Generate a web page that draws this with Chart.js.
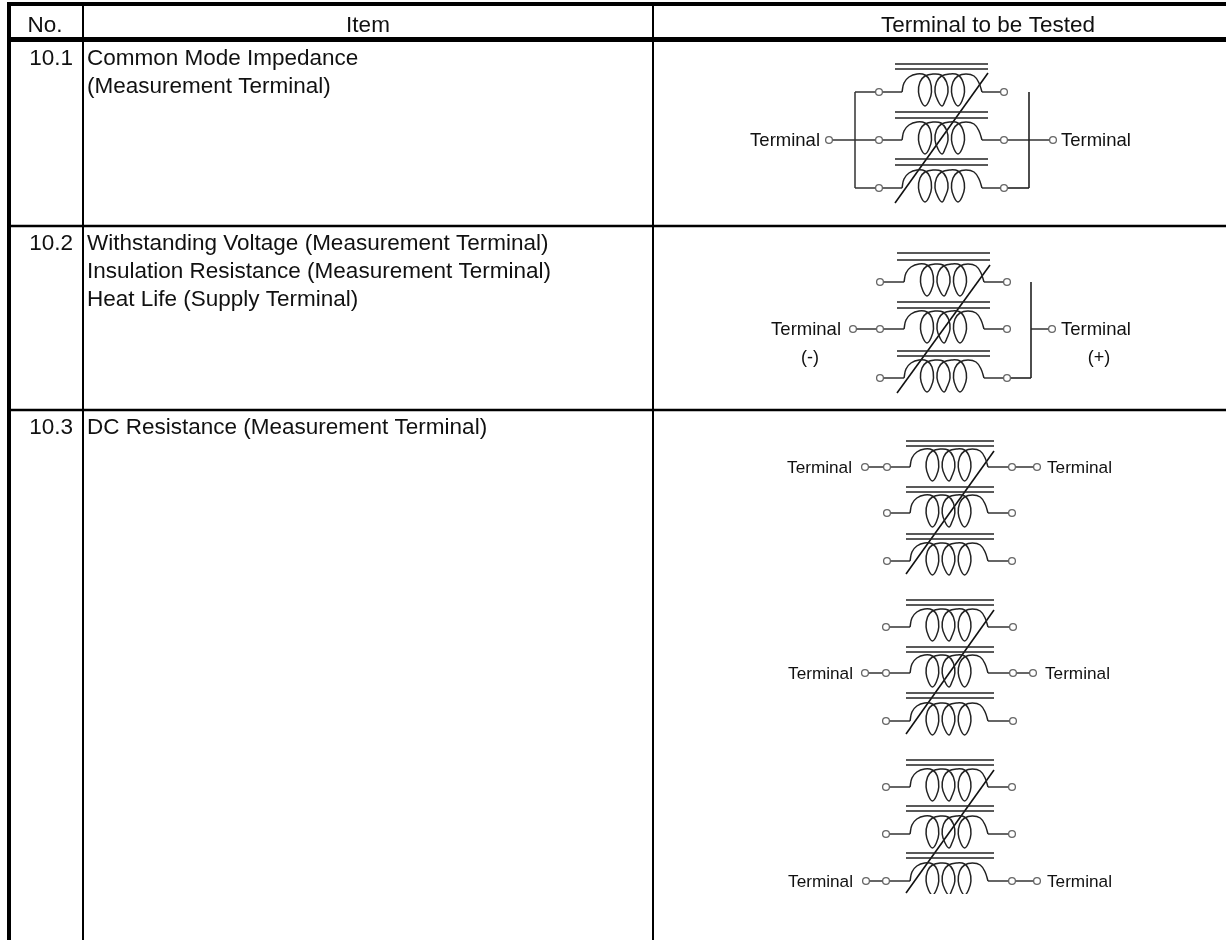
<!DOCTYPE html>
<html>
<head>
<meta charset="utf-8">
<title>Terminal to be Tested</title>
<script src="https://cdn.jsdelivr.net/npm/chart.js@4/dist/chart.umd.min.js"></script>
<style>
  html, body { margin: 0; padding: 0; background: #fff; }
  #wrap { width: 1226px; height: 940px; }
</style>
</head>
<body>
<div id="wrap"><canvas id="tableChart" width="1226" height="940"></canvas></div>
<script>
// table text
const headers = ['No.', 'Item', 'Terminal to be Tested'];
const headerX = [45, 368, 988];
const itemNos = ['10.1', '10.2', '10.3'];
const itemLines = [
  ['Common Mode Impedance', '(Measurement Terminal)'],
  ['Withstanding Voltage (Measurement Terminal)', 'Insulation Resistance (Measurement Terminal)', 'Heat Life (Supply Terminal)'],
  ['DC Resistance (Measurement Terminal)']
];
const rowBaselines = [65, 250, 434];

// table rules
const ruleTopY = 4;
const ruleHeaderY = 39.5;
const ruleRowY = [226, 410];
const ruleColX = [83, 653];
const ruleLeftX = 9;

// one coil, relative to its lead-in point
const coilX = [0, 2, 7, 15, 23, 28, 29.5, 27, 23, 19, 16.5, 18, 23, 31, 39, 44.5, 46, 43, 40, 36, 33, 34.5, 39.5, 47.5, 56, 61, 62.5, 60, 56, 52, 49.5, 51, 56, 64, 72, 77, 80];
const coilY = [0, -9, -15, -18, -17, -11, 0, 9, 14, 9, 0, -10, -16, -18, -17, -10, 0, 9, 14, 9, 0, -10, -16, -18, -17, -10, 0, 9, 14, 9, 0, -10, -16, -18, -16, -9, 0];

// five winding diagrams
const coreLeft = [895, 897, 906, 906, 906];
const coreRight = [988, 990, 994, 994, 994];
const coilStart = [902, 904, 910, 910, 910];
const coilEnd = [982, 984, 988, 988, 988];
const pinLeft = [879, 880, 887, 886, 886];
const pinRight = [1004, 1007, 1012, 1013, 1012];
const windingY = [
  [92, 140, 188],
  [282, 329, 378],
  [467, 513, 561],
  [627, 673, 721],
  [787, 834, 881]
];
const coreY = [
  [64, 69, 112, 118, 159, 165],
  [253, 260, 302, 308, 351, 356],
  [441, 446, 487, 492, 534, 539],
  [600, 605, 647, 652, 693, 698],
  [760, 765, 806, 811, 853, 858]
];
const slashBottom = [203, 393, 574, 734, 893];
const slashTop = [73, 265, 451, 610, 770];

// outer terminals
const terminalRow = [1, 1, 0, 1, 2];
const outerPinLeft = [829, 853, 865, 865, 866];
const outerPinRight = [1053, 1052, 1037, 1033, 1037];
const terminalLeftX = [820, 841, 852, 853, 853];
const terminalRightX = [1061, 1061, 1047, 1045, 1047];
const terminalSize = [18.5, 18.5, 17.2, 17.2, 17.2];
const busLeftX = 855;
const busRightX = [1029, 1031];

const datasets = [];
const pins = [];

function addLine(points, width, color, tension) {
  datasets.push({
    data: points,
    showLine: true,
    pointRadius: 0,
    borderColor: color || '#000',
    borderWidth: width,
    tension: tension || 0,
    order: 2
  });
}

function hLine(x1, x2, y, width, color) {
  addLine([{ x: x1, y: y }, { x: x2, y: y }], width, color);
}

function vLine(x, y1, y2, width, color) {
  addLine([{ x: x, y: y1 }, { x: x, y: y2 }], width, color);
}

// rules of the table
hLine(7, 1226, ruleTopY, 4);
hLine(7, 1226, ruleHeaderY, 5);
ruleRowY.forEach(y => hLine(7, 1226, y, 2.6));
vLine(ruleLeftX, 2, 940, 4);
ruleColX.forEach(x => vLine(x, 4, 940, 2));

// windings
coreLeft.forEach((left, d) => {
  coreY[d].forEach(y => hLine(left, coreRight[d], y, 1.6, '#222'));
  windingY[d].forEach(y => {
    const scale = (coilEnd[d] - coilStart[d]) / 80;
    const coil = coilX.map((dx, i) => ({ x: coilStart[d] + dx * scale, y: y + coilY[i] }));
    addLine(coil, 1.5, '#222', 0.4);
    hLine(pinLeft[d], coilStart[d], y, 1.5, '#333');
    hLine(coilEnd[d], pinRight[d], y, 1.5, '#333');
    pins.push({ x: pinLeft[d], y: y }, { x: pinRight[d], y: y });
  });
  addLine([{ x: left, y: slashBottom[d] }, { x: coreRight[d], y: slashTop[d] }], 1.6, '#111');

  const rowY = windingY[d][terminalRow[d]];
  pins.push({ x: outerPinLeft[d], y: rowY }, { x: outerPinRight[d], y: rowY });
  hLine(outerPinLeft[d], pinLeft[d], rowY, 1.5, '#333');
});

// bus bars of the first two diagrams
vLine(busLeftX, windingY[0][0], windingY[0][2], 1.5, '#333');
hLine(busLeftX, pinLeft[0], windingY[0][0], 1.5, '#333');
hLine(busLeftX, pinLeft[0], windingY[0][2], 1.5, '#333');
vLine(busRightX[0], windingY[0][0], windingY[0][2], 1.6, '#222');
hLine(pinRight[0], outerPinRight[0], windingY[0][1], 1.5, '#333');
hLine(pinRight[0], busRightX[0], windingY[0][2], 1.6, '#222');
vLine(busRightX[1], windingY[1][0], windingY[1][2], 1.6, '#222');
hLine(busRightX[1], outerPinRight[1], windingY[1][1], 1.5, '#333');
hLine(pinRight[1], busRightX[1], windingY[1][2], 1.6, '#222');

// remaining straight links of the third cell
[2, 3, 4].forEach(d => hLine(pinRight[d], outerPinRight[d], windingY[d][terminalRow[d]], 1.5, '#333'));

// the picture is cut just under the last coil
datasets.push({
  data: [{ x: 900, y: 898 }, { x: 1000, y: 898 }],
  showLine: true,
  pointRadius: 0,
  borderColor: '#fff',
  borderWidth: 8,
  order: 1
});

datasets.push({
  data: pins,
  showLine: false,
  pointRadius: 3.4,
  pointBackgroundColor: '#fff',
  pointBorderColor: '#666',
  pointBorderWidth: 1.3,
  order: 0
});

// texts go through the same scales as the marks
const tableText = {
  id: 'tableText',
  afterDatasetsDraw(chart) {
    const { ctx, scales } = chart;
    const put = (str, x, y, size, align) => {
      ctx.font = size + 'px "Liberation Sans", Arial, sans-serif';
      ctx.textAlign = align;
      ctx.textBaseline = 'alphabetic';
      ctx.fillStyle = '#111';
      ctx.fillText(str, scales.x.getPixelForValue(x), scales.y.getPixelForValue(y));
    };
    ctx.save();
    headers.forEach((h, i) => put(h, headerX[i], 32, 22.5, 'center'));
    itemNos.forEach((no, i) => {
      put(no, 73, rowBaselines[i], 22.5, 'right');
      itemLines[i].forEach((line, j) => put(line, 87, rowBaselines[i] + j * 28, 22.5, 'left'));
    });
    terminalRow.forEach((row, d) => {
      const y = windingY[d][row] + 6;
      put('Terminal', terminalLeftX[d], y, terminalSize[d], 'right');
      put('Terminal', terminalRightX[d], y, terminalSize[d], 'left');
    });
    put('(-)', 810, 363, 18, 'center');
    put('(+)', 1099, 363, 18, 'center');
    ctx.restore();
  }
};

new Chart(document.getElementById('tableChart').getContext('2d'), {
  type: 'scatter',
  data: { datasets: datasets },
  options: {
    responsive: false,
    animation: false,
    layout: { padding: 0, autoPadding: false },
    plugins: { legend: { display: false }, tooltip: { enabled: false } },
    scales: {
      x: { type: 'linear', min: 0, max: 1226, display: false },
      y: { type: 'linear', min: 0, max: 940, reverse: true, display: false }
    }
  },
  plugins: [tableText]
});
</script>
</body>
</html>
